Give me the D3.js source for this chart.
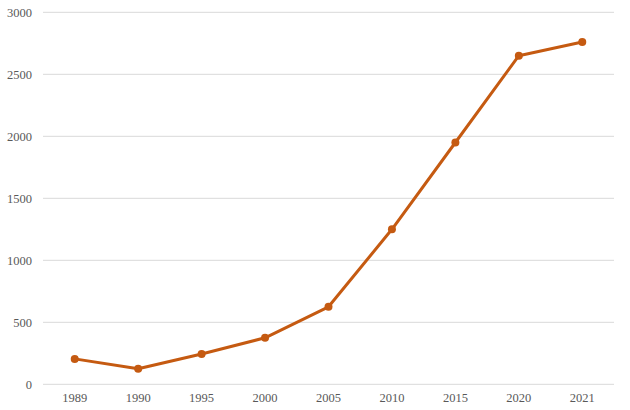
<!DOCTYPE html>
<html><head><meta charset="utf-8">
<script src="https://cdn.jsdelivr.net/npm/d3@7"></script>
<style>body{margin:0;background:#fff}</style>
</head><body><svg id="c" width="630" height="410"></svg>
<script>
const categories = ["1989","1990","1995","2000","2005","2010","2015","2020","2021"];
const values = [205, 125, 245, 375, 625, 1250, 1950, 2650, 2760];
const yTicks = [0, 500, 1000, 1500, 2000, 2500, 3000];

const svg = d3.select("#c");
const x = d3.scaleBand().domain(categories).range([43, 614]);
const y = d3.scaleLinear().domain([0, 3000]).range([384.3, 12.3]);
const font = "'Liberation Serif','Times New Roman',serif";

svg.append("g").selectAll("line").data(yTicks).join("line")
  .attr("x1", 43).attr("x2", 614)
  .attr("y1", d => y(d)).attr("y2", d => y(d))
  .attr("stroke", "#d9d9d9").attr("stroke-width", 1);

const yAxis = d3.axisLeft(y).tickValues(yTicks).tickFormat(d3.format("d")).tickSize(0).tickPadding(0);
svg.append("g").attr("transform", "translate(32,0)").call(yAxis)
  .call(g => g.select(".domain").remove())
  .selectAll("text").attr("font-family", font).attr("font-size", 12.5).attr("fill", "#595959");

const xAxis = d3.axisBottom(x).tickSize(0).tickPadding(0);
svg.append("g").attr("transform", "translate(0,393)").call(xAxis)
  .call(g => g.select(".domain").remove())
  .selectAll("text").attr("font-family", font).attr("font-size", 12.5).attr("fill", "#595959");

const cx = d => x(d) + x.bandwidth() / 2;
const line = d3.line().x((d, i) => cx(categories[i])).y(d => y(d));
svg.append("path").datum(values).attr("d", line)
  .attr("fill", "none").attr("stroke", "#c55a11").attr("stroke-width", 3)
  .attr("stroke-linejoin", "round");
svg.append("g").selectAll("circle").data(values).join("circle")
  .attr("cx", (d, i) => cx(categories[i])).attr("cy", d => y(d))
  .attr("r", 4).attr("fill", "#c55a11");
</script></body></html>
